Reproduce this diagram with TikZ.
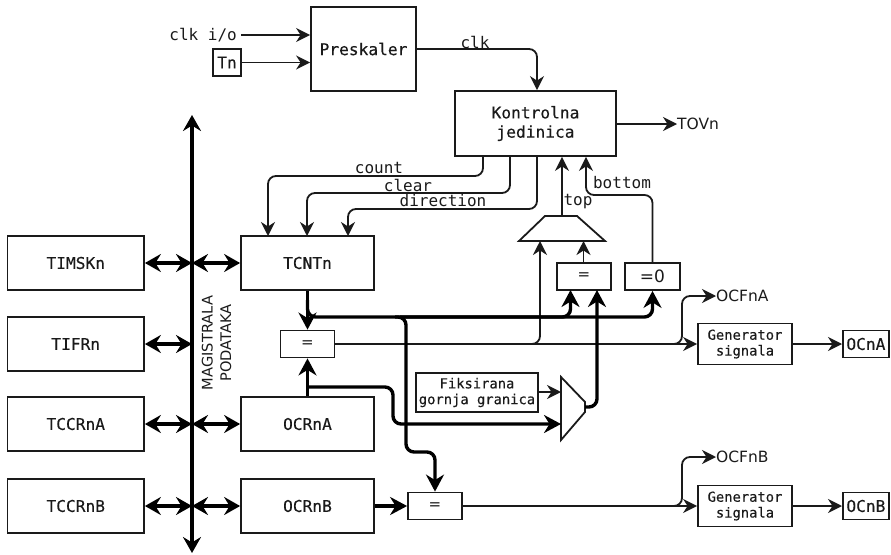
\documentclass[tikz,border=0pt]{standalone}
\usepackage{fontspec}
\usetikzlibrary{arrows.meta,calc}
\newfontfamily\monof[FakeBold=0.25]{DejaVu Sans Mono}
\newfontfamily\labf{DejaVu Sans Mono}
\newfontfamily\sansf{DejaVu Sans}
\newcommand{\sz}[1]{\fontsize{#1}{#1}\selectfont}
\definecolor{ink}{HTML}{1A1A1A}
\tikzset{
  box/.style={draw=ink,line width=1.8pt,inner sep=0pt,align=center,font=\monof\sz{16.2},text=ink},
  smallbox/.style={box,font=\monof\sz{13.8}},
  lab/.style={inner sep=0pt,font=\labf\sz{16},text=ink},
  slab/.style={inner sep=0pt,font=\sansf\sz{15.5},text=ink},
  thin conn/.style={draw=ink,line width=1.8pt,rounded corners=8pt},
  thick conn/.style={draw=black,line width=3.4pt,rounded corners=8pt},
  ta/.style={thin conn,-{Stealth[length=14pt,width=14pt,inset=4.5pt]}},
  tb/.style={thick conn,-{Stealth[length=17pt,width=18pt,inset=5.5pt]}},
  bi/.style={thick conn,{Stealth[length=16pt,width=18pt,inset=5.5pt]}-{Stealth[length=16pt,width=18pt,inset=5.5pt]}},
  mux/.style={draw=ink,line width=1.8pt,line join=miter}
}
\begin{document}
\begin{tikzpicture}[x=1pt,y=-1pt]
\useasboundingbox (0,0) rectangle (891,554);
% nodes
\node[box,minimum width=105pt,minimum height=84pt] (pres) at (363.5,49) {Preskaler};
\node[box,minimum width=161pt,minimum height=65pt] (kj) at (535.5,123.5) {Kontrolna\\[3pt]jedinica};
\node[box,minimum width=28pt,minimum height=27pt] (tn) at (227,62.5) {Tn};
\node[lab,anchor=east] (clkio) at (237,35) {clk i/o};
\node[slab,anchor=west] (tov) at (677,124) {TOVn};
\foreach \n/\t/\y in {timsk/TIMSKn/263,tifr/TIFRn/344,tccra/TCCRnA/424,tccrb/TCCRnB/506}
  \node[box,minimum width=136.5pt,minimum height=54pt] (\n) at (75.75,\y) {\t};
\node[box,minimum width=133pt,minimum height=54pt] (tcnt) at (307.5,263) {TCNTn};
\node[box,minimum width=133pt,minimum height=54pt] (ocra) at (307.5,424) {OCRnA};
\node[box,minimum width=133pt,minimum height=54pt] (ocrb) at (307.5,506) {OCRnB};
\node[box,minimum width=54pt,minimum height=27pt,font=\sansf\sz{15}] (eqa) at (307.5,344) {=};
\node[box,minimum width=54pt,minimum height=27pt,font=\sansf\sz{15}] (eqb) at (435,506) {=};
\node[box,minimum width=54pt,minimum height=27pt,font=\sansf\sz{15}] (eqt) at (584,276.5) {=};
\node[box,minimum width=55pt,minimum height=27pt,font=\sansf\sz{17}] (zero) at (652.5,276.5) {=0};
\node[smallbox,minimum width=122pt,minimum height=39pt] (fix) at (477,392.5) {Fiksirana\\[2pt]gornja granica};
\node[smallbox,minimum width=94pt,minimum height=41pt] (gena) at (745,344) {Generator\\[2pt]signala};
\node[smallbox,minimum width=94pt,minimum height=41pt] (genb) at (745,506) {Generator\\[2pt]signala};
\node[box,minimum width=46pt,minimum height=27pt,anchor=west] (oca) at (842,344) {OCnA};
\node[box,minimum width=46pt,minimum height=27pt,anchor=west] (ocb) at (842,506) {OCnB};
\node[slab,anchor=west] (ocfa) at (716,296) {OCFnA};
\node[slab,anchor=west] (ocfb) at (716,457) {OCFnB};
\node[lab] (lclk) at (475,42) {clk};
\node[lab] (lcount) at (379,168) {count};
\node[lab] (lclear) at (408,185.5) {clear};
\node[lab] (ldir) at (443,201) {direction};
\node[lab] (ltop) at (578,202) {top};
\node[lab] (lbot) at (622,183) {bottom};
\node[inner sep=0pt,rotate=90,align=center,font=\sansf\sz{14.6},text=ink] (bus) at (216.5,343) {MAGISTRALA\\[4pt]PODATAKA};
% named helper points
\coordinate (bt) at (192,115);
\coordinate (bb) at (192,553);
\coordinate (px) at (537,0);
\coordinate (cx) at (483,0);
\coordinate (lx) at (510,0);
\coordinate (tx) at (562,0);
\coordinate (bx) at (586,0);
\coordinate (ma) at (545,216); \coordinate (mb) at (577,216);
\coordinate (mc) at (605,241); \coordinate (md) at (519,241);
\coordinate (n1) at (561,377); \coordinate (n2) at (585,402);
\coordinate (n3) at (585,412); \coordinate (n4) at (561,440);
\coordinate (nout) at (585,407);
% mux shapes
\draw[mux] (ma)--(mb)--(mc)--(md)--cycle;
\draw[mux] (n1)--(n2)--(n3)--(n4)--cycle;
% thin connectors
\draw[ta] (clkio.east)++(4,0) -- (clkio.east -| pres.west);
\draw[ta] (tn.east) -- (tn.east -| pres.west);
\draw[ta] (pres.east) -- (px |- pres.east) -- (px |- kj.north);
\draw[ta] (kj.east |- tov.west) -- (tov.west);
\draw[ta] (cx |- kj.south) -- (cx |- 0,176) -- (268,176) -- (268,236);
\draw[ta] (lx |- kj.south) -- (lx |- 0,193) -- (307,193) -- (307,236);
\draw[ta] (px |- kj.south) -- (px |- 0,209) -- (348,209) -- (348,236);
\draw[ta] (tx |- ma) -- (tx |- kj.south);
\draw[ta] (zero.north) -- (zero.north |- 0,195) -- (bx |- 0,195) -- (bx |- kj.south);
\draw[ta] (583.5,263) -- (583.5,241);
\draw[ta] (eqa.east) -- (gena.west);
\draw[ta] (530,344) -- (540,344) -- (540,241);
\draw[ta] (660,344) -- (682,344) -- (682,296) -- (ocfa.west);
\draw[ta] (gena.east) -- (oca.west);
\draw[ta] (eqb.east) -- (genb.west);
\draw[ta] (660,506) -- (682,506) -- (682,457) -- (ocfb.west);
\draw[ta] (genb.east) -- (ocb.west);
\draw[ta] (fix.east |- 0,392) -- (n1 |- 0,392);
% thick connectors
\draw[tb] (tcnt.south) -- (eqa.north);
\draw[tb] (307.5,300) -- (307.5,317) -- (570.5,317) -- (570.5,290);
\draw[tb] (400,317) -- (652.5,317) -- (zero.south);
\draw[tb] (395,317) -- (406,317) -- (406,452) -- (435,452) -- (eqb.north);
\draw[tb] (ocra.north -| eqa.south) -- (eqa.south);
\draw[tb] (307,387) -- (393,387) -- (393,424) -- (n1 |- 0,424);
\draw[tb] (nout) -- (597,407) -- (597,290);
\draw[tb] (ocrb.east) -- (eqb.west);
% bus
\draw[bi] (bb) -- (bt);
\foreach \n in {timsk,tifr,tccra,tccrb}
  \draw[bi] (\n.east) -- (\n.east -| bt);
\foreach \n in {tcnt,ocra,ocrb}
  \draw[bi] (\n.west -| bt) -- (\n.west);
\end{tikzpicture}
\end{document}
